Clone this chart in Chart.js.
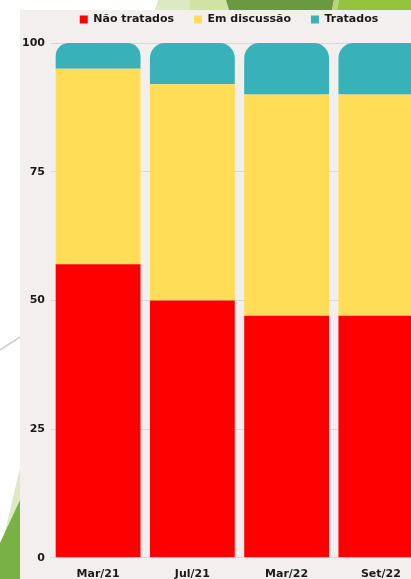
<!DOCTYPE html>
<html>
<head>
<meta charset="utf-8">
<script src="https://cdn.jsdelivr.net/npm/chart.js@4/dist/chart.umd.min.js"></script>
<style>
  html, body { margin: 0; padding: 0; background: #ffffff; overflow: hidden; width: 411px; height: 579px; }
  #deco { position: absolute; left: 0; top: 0; }
  #panel { position: absolute; left: 20px; top: 10px; width: 400px; height: 580px; background: #f2efee; }
  #wrap { position: absolute; left: 14px; top: -6px; width: 443px; height: 597px; }
</style>
</head>
<body>
<!-- background decoration behind the chart panel -->
<svg id="deco" width="411" height="579">
  <polygon points="158,0 190,0 190,10 155,10" fill="#dde8c5"/>
  <polygon points="190,0 226,0 229,10 190,10" fill="#d0e3a2"/>
  <polygon points="226,0 334,0 332,10 229,10" fill="#6a9a40"/>
  <polygon points="334,0 339,0 337,10 332,10" fill="#b6d67c"/>
  <polygon points="339,0 411,0 411,10 337,10" fill="#95c43c"/>
  <line x1="0" y1="350" x2="20" y2="337" stroke="#cfcfcf" stroke-width="1.5"/>
  <polygon points="20,468 3,540 0,579 20,579" fill="#dce9c3"/>
  <polygon points="20,500 0,543 0,579 20,579" fill="#79b146"/>
</svg>
<div id="panel"></div>
<div id="wrap"><canvas id="status-chart"></canvas></div>
<script>
// chart data
const categories = ['Mar/21', 'Jul/21', 'Mar/22', 'Set/22'];
const naoTratados = [57, 50, 47, 47];
const emDiscussao = [38, 42, 43, 43];
const tratados = [5, 8, 10, 10];
const yTicks = [0, 25, 50, 75, 100];

const labelFont = { family: 'DejaVu Sans', size: 11, weight: 'bold' };

// give the legend some extra room below it, and nudge it a bit to the right
const legendTweak = {
    id: 'legendTweak',
    beforeInit(chart) {
        const fit = chart.legend.fit;
        chart.legend.fit = function () {
            fit.call(this);
            this.height += 8;
        };
    },
    afterLayout(chart) {
        chart.legend.left += 7;
        chart.legend.right += 7;
    }
};

new Chart(document.getElementById('status-chart'), {
    type: 'bar',
    data: {
        labels: categories,
        datasets: [{
            label: 'Não tratados',
            data: naoTratados,
            backgroundColor: '#ff0000'
        }, {
            label: 'Em discussão',
            data: emDiscussao,
            backgroundColor: '#ffdd57'
        }, {
            label: 'Tratados',
            data: tratados,
            backgroundColor: '#38b2b8',
            borderRadius: { topLeft: 15, topRight: 15, bottomLeft: 0, bottomRight: 0 },
            borderSkipped: false
        }]
    },
    options: {
        responsive: true,
        maintainAspectRatio: false,
        animation: false,
        datasets: {
            bar: { barPercentage: 0.9, categoryPercentage: 1 }
        },
        layout: { padding: { left: 2, right: 29, top: 0, bottom: 0 } },
        plugins: {
            legend: {
                position: 'top',
                labels: {
                    boxWidth: 8,
                    boxHeight: 8,
                    padding: 20,
                    color: '#1a1a1a',
                    font: labelFont
                }
            },
            tooltip: { enabled: false }
        },
        scales: {
            x: {
                stacked: true,
                grid: { display: false, drawTicks: false },
                border: { display: false },
                ticks: { color: '#1a1a1a', font: labelFont, padding: 10 }
            },
            y: {
                stacked: true,
                min: 0,
                max: 100,
                afterBuildTicks: (axis) => {
                    axis.ticks = yTicks.map(v => ({ value: v }));
                },
                grid: { color: '#dcd8d7', drawTicks: false },
                border: { display: false },
                ticks: { color: '#1a1a1a', font: labelFont, padding: 6 }
            }
        }
    },
    plugins: [legendTweak]
});
</script>
</body>
</html>
